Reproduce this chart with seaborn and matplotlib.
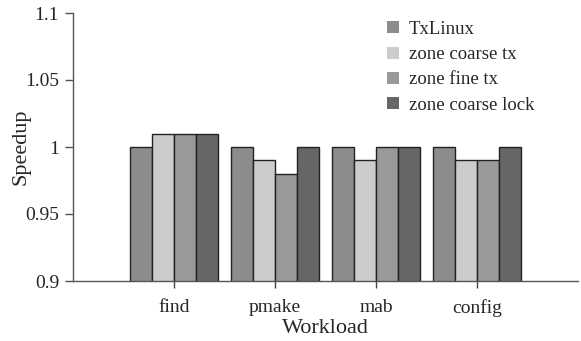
import matplotlib
matplotlib.use("Agg")
import matplotlib.pyplot as plt
import seaborn as sns
import pandas as pd

workloads = ["find", "pmake", "mab", "config"]
series = ["TxLinux", "zone coarse tx", "zone fine tx", "zone coarse lock"]
txlinux = [1.00, 1.00, 1.00, 1.00]
zone_coarse_tx = [1.01, 0.99, 0.99, 0.99]
zone_fine_tx = [1.01, 0.98, 1.00, 0.99]
zone_coarse_lock = [1.01, 1.00, 1.00, 1.00]
colors = ["#8c8c8c", "#cccccc", "#999999", "#666666"]
yticks = [0.9, 0.95, 1.0, 1.05, 1.1]
ytick_labels = ["0.9", "0.95", "1", "1.05", "1.1"]

rows = []
for name, vals in zip(series, [txlinux, zone_coarse_tx, zone_fine_tx, zone_coarse_lock]):
    for w, v in zip(workloads, vals):
        rows.append({"Workload": w, "Series": name, "Speedup": v})
df = pd.DataFrame(rows)

sns.set_style("ticks")
plt.rcParams["font.family"] = ["Liberation Serif", "DejaVu Serif"]

fig = plt.figure(figsize=(5.81, 3.41), dpi=100)
ax = fig.add_axes([73/581, 1-281/341, (578-73)/581, (281-13)/341])

sns.barplot(data=df, x="Workload", y="Speedup", hue="Series", order=workloads,
            hue_order=series, palette=colors, width=0.88, ax=ax,
            edgecolor="#222222", linewidth=1.0, saturation=1)

ax.set_ylim(0.9, 1.1)
ax.set_xlim(-1, 4)
ax.set_yticks(yticks)
ax.set_yticklabels(ytick_labels, fontsize=14)
ax.tick_params(axis="x", labelsize=14, length=5, width=1, color="#444444", pad=8)
ax.tick_params(axis="y", length=6, width=1, color="#555555", pad=4)
for s in ["top", "right"]:
    ax.spines[s].set_visible(False)
for s in ["left", "bottom"]:
    ax.spines[s].set_color("#555555")
    ax.spines[s].set_linewidth(1)
ax.set_xlabel("Workload", fontsize=16, labelpad=1.5)
ax.set_ylabel("Speedup", fontsize=16, labelpad=-4)

handles, labels = ax.get_legend_handles_labels()
for h in handles:
    h.set_edgecolor("none")
    h.set_linewidth(0)
ax.legend(handles, labels, loc="upper left", bbox_to_anchor=((387-73)/505, (281-21)/268),
          frameon=False, fontsize=13.5, handlelength=0.62, handleheight=0.62,
          handletextpad=0.55, labelspacing=0.44, borderpad=0, borderaxespad=0)

fig.savefig("out.png", dpi=100)
